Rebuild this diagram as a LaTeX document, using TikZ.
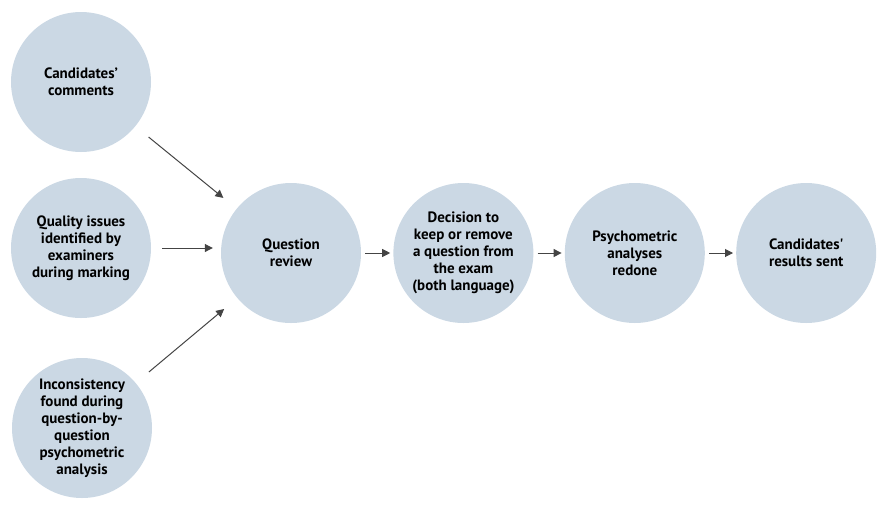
\documentclass[tikz,border=0pt]{standalone}
\usepackage{fontspec}
\setmainfont{PT Sans}
\usetikzlibrary{arrows.meta,positioning}
\definecolor{stage}{RGB}{203,216,228}
\definecolor{flow}{RGB}{68,68,68}

\begin{document}
\begin{tikzpicture}[
  x=1pt, y=1pt,
  stagenode/.style={circle, fill=stage, minimum size=140pt, inner sep=-12pt,
                    font=\fontsize{15}{17}\selectfont\bfseries, align=center, text=black},
  feed/.style={-{Triangle[length=8pt,width=8pt]}, line width=1pt, flow,
               shorten <=17pt, shorten >=17pt},
  link/.style={-{Triangle[length=8pt,width=8pt]}, line width=1pt, flow,
               shorten <=4pt, shorten >=3pt},
]
\useasboundingbox (0,0) rectangle (883,-509);

% Nodes
\node[stagenode] (comments) at (81,-82) {Candidates'\\comments};
\node[stagenode] (quality) at (81,-248) {Quality issues\\identified by\\examiners\\during marking};
\node[stagenode] (incons) at (82,-428) {Inconsistency\\found during\\question-by-\\question\\psychometric\\analysis};
\node[stagenode] (review) at (291,-253) {Question\\review};
\node[stagenode, right=32pt of review] (decide) {Decision to\\keep or remove\\a question from\\the exam\\(both language)};
\node[stagenode, right=31pt of decide] (psych) {Psychometric\\analyses\\redone};
\node[stagenode, right=31pt of psych] (results) {Candidates\textquotesingle\\results sent};

% Arrows
\draw[feed] (comments) -- (review);
\draw[feed, shorten <=11pt, shorten >=8pt] (quality.east) -- (quality.east -| review.west);
\draw[feed] (incons) -- (review);
\draw[link] (review) -- (decide);
\draw[link] (decide) -- (psych);
\draw[link] (psych) -- (results);
\end{tikzpicture}
\end{document}
